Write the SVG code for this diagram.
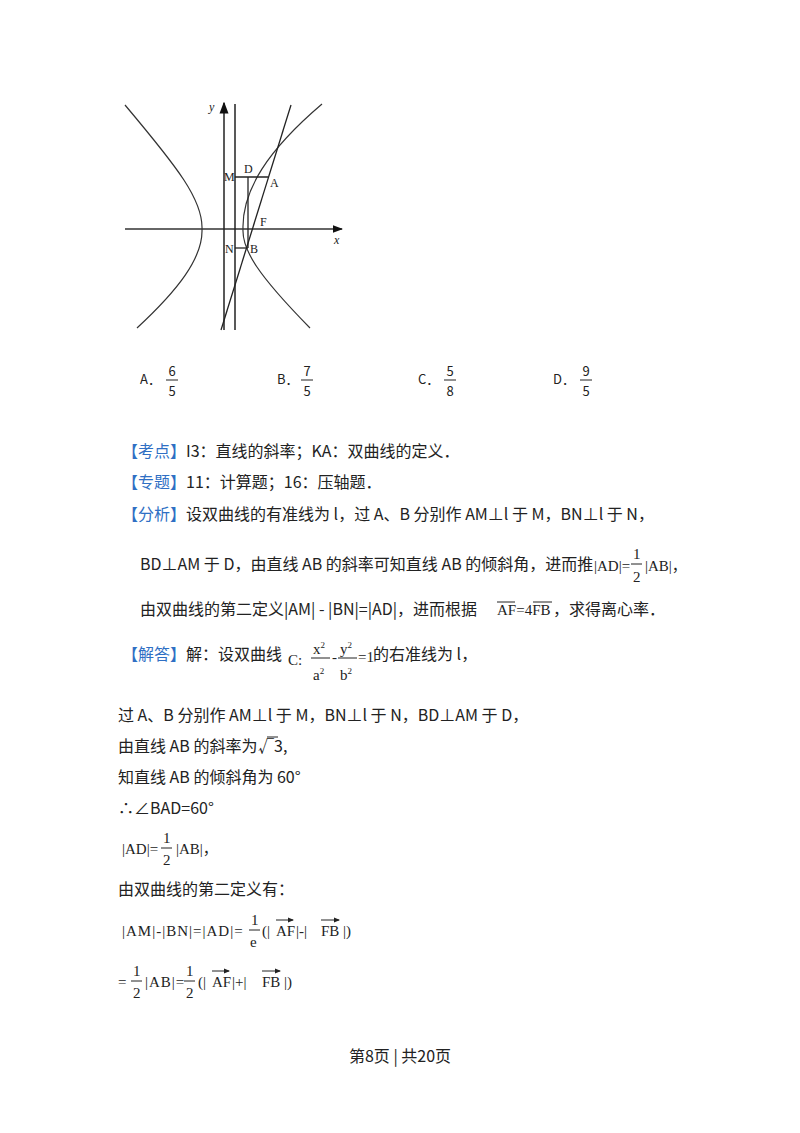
<svg xmlns="http://www.w3.org/2000/svg" width="800" height="1133" viewBox="0 0 800 1133">
<style>
.t{font-family:"Noto Sans CJK SC","Noto Sans",sans-serif;font-size:16px;fill:#222}
.b{fill:#2f6fc4}
.m{font-family:"Liberation Serif","Noto Sans CJK SC",serif;font-size:15px;fill:#222}
.f{font-family:"Liberation Serif",serif;font-size:12px;fill:#222}
.c{fill:none;stroke:#333;stroke-width:1.2}
.k{stroke:#222;stroke-width:1}
</style>
<rect width="800" height="1133" fill="#fff"/>
<defs><marker id="ar" markerWidth="8" markerHeight="8" refX="7" refY="4" orient="auto"><path d="M0,1 L8,4 L0,7 Z" fill="#111"/></marker>
<marker id="va" markerWidth="6" markerHeight="6" refX="5" refY="3" orient="auto"><path d="M0,0.5 L6,3 L0,5.5 Z" fill="#222"/></marker></defs>
<g id="figure">
<line x1="125" y1="229" x2="342" y2="229" stroke="#333" stroke-width="1.3" marker-end="url(#ar)"/>
<line x1="224" y1="330" x2="224" y2="103" stroke="#222" stroke-width="1.5" marker-end="url(#ar)"/>
<line x1="235" y1="104" x2="235" y2="330" stroke="#222" stroke-width="1.5"/>
<path class="c" d="M125,105 C178,168 203,200 202,229 C203,258 178,290 137,328"/>
<path class="c" d="M322,104 C268,150 242,190 243,229 C242,250 258,275 310,328"/>
<line x1="221" y1="330" x2="291" y2="105" stroke="#222" stroke-width="1.3"/>
<line x1="235" y1="177" x2="268" y2="177" stroke="#222" stroke-width="1.3"/>
<line x1="248" y1="177" x2="248" y2="248" stroke="#222" stroke-width="1.3"/>
<line x1="235" y1="248" x2="248" y2="248" stroke="#222" stroke-width="1.3"/>
<g class="f"><text x="209" y="111" font-style="italic">y</text><text x="334" y="244" font-style="italic">x</text>
<text x="224" y="181">M</text><text x="244" y="173">D</text><text x="270" y="187">A</text><text x="260" y="226">F</text><text x="225" y="253">N</text><text x="250" y="253">B</text></g>
</g>
<g id="choices" class="t">
<text x="140" y="384" font-size="13">A．</text><text x="277" y="384" font-size="13">B．</text><text x="418" y="384" font-size="13">C．</text><text x="553" y="384" font-size="13">D．</text>
<g text-anchor="middle"><text x="172" y="376" font-size="13">6</text><text x="172" y="396" font-size="13">5</text><text x="307" y="376" font-size="13">7</text><text x="307" y="396" font-size="13">5</text><text x="450" y="376" font-size="13">5</text><text x="450" y="396" font-size="13">8</text><text x="586" y="376" font-size="13">9</text><text x="586" y="396" font-size="13">5</text></g>
<g class="k"><line x1="166" y1="380" x2="178" y2="380"/><line x1="301" y1="380" x2="313" y2="380"/><line x1="444" y1="380" x2="456" y2="380"/><line x1="580" y1="380" x2="592" y2="380"/></g>
</g>
<g id="analysis" class="t">
<text x="122" y="457"><tspan class="b">【考点】</tspan>I3：直线的斜率；KA：双曲线的定义．</text>
<text x="122" y="488"><tspan class="b">【专题】</tspan>11：计算题；16：压轴题．</text>
<text x="122" y="520"><tspan class="b">【分析】</tspan>设双曲线的有准线为 l，过 A、B 分别作 AM⊥l 于 M，BN⊥l 于 N，</text>
<text x="140" y="570">BD⊥AM 于 D，由直线 AB 的斜率可知直线 AB 的倾斜角，进而推</text>
<text class="m" x="594" y="571">|AD|=</text><text class="m" x="633" y="559">1</text><text class="m" x="633" y="582">2</text><line class="k" x1="631" y1="564" x2="642" y2="564"/><text class="m" x="645" y="571">|AB|，</text>
<text x="140" y="615">由双曲线的第二定义|AM| - |BN|=|AD|，进而根据</text>
<text class="m" x="497" y="615">AF=4FB</text><line class="k" x1="497" y1="602" x2="515" y2="602"/><line class="k" x1="533" y1="602" x2="552" y2="602"/>
<text x="553" y="615">，求得离心率．</text>
<text x="122" y="660"><tspan class="b">【解答】</tspan>解：设双曲线</text>
<text class="m" x="288" y="665" font-size="11">C:</text>
<text class="m" x="313" y="654" font-size="12">x<tspan dy="-6" font-size="9">2</tspan></text><text class="m" x="313" y="680" font-size="12">a<tspan dy="-6" font-size="9">2</tspan></text><line class="k" x1="311" y1="658" x2="330" y2="658"/>
<text class="m" x="332" y="662" font-size="12">-</text>
<text class="m" x="340" y="654" font-size="12">y<tspan dy="-6" font-size="9">2</tspan></text><text class="m" x="340" y="680" font-size="12">b<tspan dy="-6" font-size="9">2</tspan></text><line class="k" x1="338" y1="658" x2="357" y2="658"/>
<text class="m" x="358" y="662" font-size="12">=1</text>
<text x="373" y="660">的右准线为 l，</text>
<text x="118" y="721">过 A、B 分别作 AM⊥l 于 M，BN⊥l 于 N，BD⊥AM 于 D，</text>
<text x="118" y="752">由直线 AB 的斜率为</text><text x="258" y="752">√3,</text><line class="k" x1="267" y1="737" x2="278" y2="737"/>
<text x="118" y="783">知直线 AB 的倾斜角为 60°</text>
<text x="118" y="814">∴∠BAD=60°</text>
<text class="m" x="122" y="854">|AD|=</text><text class="m" x="163" y="843">1</text><text class="m" x="163" y="865">2</text><line class="k" x1="161" y1="848" x2="172" y2="848"/><text class="m" x="176" y="854">|AB|，</text>
<text x="118" y="895">由双曲线的第二定义有：</text>
<text class="m" x="122" y="936" letter-spacing="1">|AM|-|BN|=|AD|=</text><text class="m" x="251" y="925">1</text><text class="m" x="250" y="947">e</text><line class="k" x1="249" y1="930" x2="260" y2="930"/>
<text class="m" x="262" y="936">(|</text><text class="m" x="276" y="936">AF</text><text class="m" x="296" y="936">|-|</text><text class="m" x="321" y="936">FB</text><text class="m" x="343" y="936">|)</text>
<line class="k" x1="276" y1="920" x2="293" y2="920" marker-end="url(#va)"/><line class="k" x1="321" y1="920" x2="339" y2="920" marker-end="url(#va)"/>
<text class="m" x="118" y="987">=</text><text class="m" x="133" y="976">1</text><text class="m" x="133" y="998">2</text><line class="k" x1="131" y1="981" x2="142" y2="981"/>
<text class="m" x="145" y="987" letter-spacing="1">|AB|=</text><text class="m" x="186" y="976">1</text><text class="m" x="186" y="998">2</text><line class="k" x1="184" y1="981" x2="195" y2="981"/>
<text class="m" x="198" y="987">(|</text><text class="m" x="212" y="987">AF</text><text class="m" x="232" y="987">|+|</text><text class="m" x="262" y="987">FB</text><text class="m" x="284" y="987">|)</text>
<line class="k" x1="212" y1="971" x2="229" y2="971" marker-end="url(#va)"/><line class="k" x1="262" y1="971" x2="280" y2="971" marker-end="url(#va)"/>
</g>
<text class="t" x="400" y="1062" font-size="13" text-anchor="middle">第8页 | 共20页</text>
</svg>
